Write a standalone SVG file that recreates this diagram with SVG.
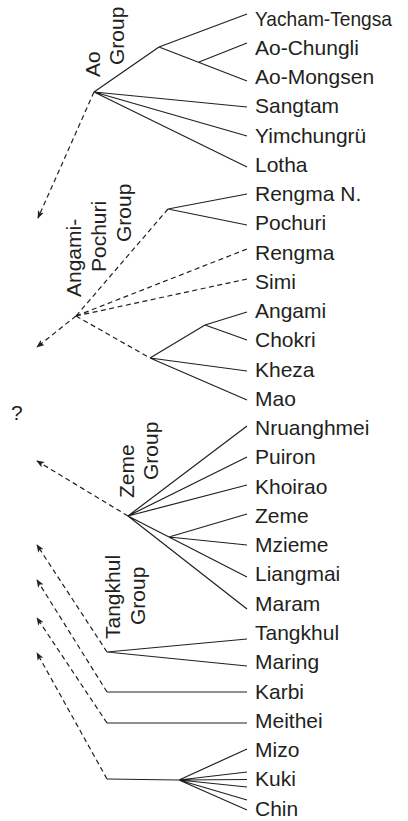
<svg xmlns="http://www.w3.org/2000/svg" width="408" height="821" viewBox="0 0 408 821">
<style>
text{font-family:"Liberation Sans",Arial,Helvetica,sans-serif;font-size:21px;fill:#231f20}
.s{fill:none;stroke:#231f20;stroke-width:1.2}
.d{fill:none;stroke:#231f20;stroke-width:1.2;stroke-dasharray:5 3.5}
.a{marker-end:url(#arr)}
</style>
<defs>
<marker id="arr" viewBox="0 0 10 8" refX="9" refY="4" markerWidth="8" markerHeight="6.4" markerUnits="userSpaceOnUse" orient="auto">
<path d="M0,0 L10,4 L0,8 L2.5,4 Z" fill="#231f20"/>
</marker>
</defs>
<rect width="408" height="821" fill="#fff"/>
<g id="connectors">
<path class="s" d="M94,92 L159,47 M159,47 L247,14 M159,47 L247,81 M199,62 L247,43 M94,92 L247,107 M94,92 L247,136 M94,92 L247,167"/>
<path class="s" d="M168,209 L247,194 M168,209 L247,225"/>
<path class="d" d="M168,209 L76,316 M76,316 L247,249 M76,316 L247,279 M76,316 L150,358"/>
<path class="s" d="M150,358 L205,325 M205,325 L247,312 M205,325 L247,340 M150,358 L247,371 M150,358 L247,400"/>
<path class="s" d="M128,516 L247,426 M128,516 L247,457 M128,516 L247,485 M128,516 L247,577 M169,537 L247,514 M169,537 L247,545 M128,516 L247,609"/>
<path class="s" d="M107,652 L247,639 M107,652 L247,666 M107,692 L247,692 M107,723 L247,723 M107,779 L179,780"/>
<path class="s" d="M179,780 L247,749 M179,780 L247,772 M179,780 L247,779.5 M179,780 L247,787 M179,780 L247,800 M179,780 L247,810"/>
<path class="d a" d="M94,92 L38,218"/>
<path class="d a" d="M76,316 L37,347"/>
<path class="d a" d="M128,516 L37,461"/>
<path class="d a" d="M107,652 L37,545"/>
<path class="d a" d="M107,692 L37,580"/>
<path class="d a" d="M107,723 L37,618"/>
<path class="d a" d="M107,779 L37,653"/>
</g>
<g id="ao-group"><text transform="translate(100,77) rotate(-90)">Ao</text><text transform="translate(124,65) rotate(-90)">Group</text></g>
<g id="angami-pochuri-group"><text transform="translate(81,297) rotate(-90)">Angami-</text><text transform="translate(106,272) rotate(-90)">Pochuri</text><text transform="translate(131,242) rotate(-90)">Group</text></g>
<g id="zeme-group"><text transform="translate(134,498) rotate(-90)">Zeme</text><text transform="translate(158,480) rotate(-90)">Group</text></g>
<g id="tangkhul-group"><text transform="translate(120,639) rotate(-90)">Tangkhul</text><text transform="translate(145,625) rotate(-90)">Group</text></g>
<g id="unknown"><text x="11" y="420">?</text></g>
<g id="yacham-tengsa"><text x="255" y="25.5" textLength="137" lengthAdjust="spacingAndGlyphs">Yacham-Tengsa</text></g>
<g id="ao-chungli"><text x="255" y="54.8">Ao-Chungli</text></g>
<g id="ao-mongsen"><text x="255" y="84">Ao-Mongsen</text></g>
<g id="sangtam"><text x="255" y="113.3">Sangtam</text></g>
<g id="yimchungru"><text x="255" y="142.5">Yimchungrü</text></g>
<g id="lotha"><text x="255" y="171.8">Lotha</text></g>
<g id="rengma-n"><text x="255" y="201">Rengma N.</text></g>
<g id="pochuri"><text x="255" y="230.3">Pochuri</text></g>
<g id="rengma"><text x="255" y="259.6">Rengma</text></g>
<g id="simi"><text x="255" y="288.8">Simi</text></g>
<g id="angami"><text x="255" y="318.1">Angami</text></g>
<g id="chokri"><text x="255" y="347.4">Chokri</text></g>
<g id="kheza"><text x="255" y="376.6">Kheza</text></g>
<g id="mao"><text x="255" y="405.9">Mao</text></g>
<g id="nruanghmei"><text x="255" y="435.1">Nruanghmei</text></g>
<g id="puiron"><text x="255" y="464.4">Puiron</text></g>
<g id="khoirao"><text x="255" y="493.7">Khoirao</text></g>
<g id="zeme"><text x="255" y="522.9">Zeme</text></g>
<g id="mzieme"><text x="255" y="552.2">Mzieme</text></g>
<g id="liangmai"><text x="255" y="581.4">Liangmai</text></g>
<g id="maram"><text x="255" y="610.7">Maram</text></g>
<g id="tangkhul"><text x="255" y="640">Tangkhul</text></g>
<g id="maring"><text x="255" y="669.2">Maring</text></g>
<g id="karbi"><text x="255" y="698.5">Karbi</text></g>
<g id="meithei"><text x="255" y="727.7">Meithei</text></g>
<g id="mizo"><text x="255" y="757">Mizo</text></g>
<g id="kuki"><text x="255" y="786.3">Kuki</text></g>
<g id="chin"><text x="255" y="815.5">Chin</text></g>
</svg>
